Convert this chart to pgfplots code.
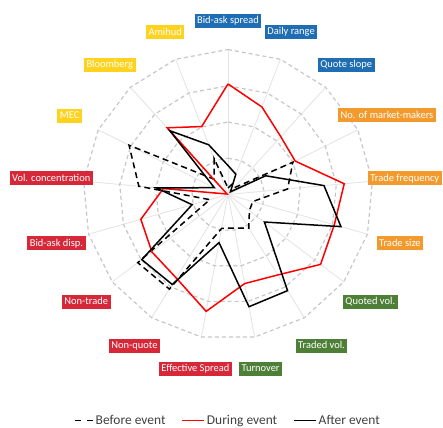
\documentclass[border=0pt]{standalone}
\usepackage{pgfplots}
\pgfplotsset{compat=1.18}
\usepgfplotslibrary{polar}
\usepackage{pgfplotstable}
\usepackage{fontspec}
\setmainfont{Carlito}

\definecolor{cblue}{HTML}{1F6EB4}
\definecolor{cyellow}{HTML}{FFD21E}
\definecolor{corange}{HTML}{F39A2D}
\definecolor{cred}{HTML}{D62839}
\definecolor{cgreen}{HTML}{4E7F37}
\definecolor{legtext}{HTML}{404040}

% angle (deg, clockwise from top) and score of each event window
\pgfplotstableread{
angle    before during after
90       0.18   3.05   0.80
68.824   0.30   2.59   0.60
47.647   0.25   2.16   0.10
26.471   2.00   2.07   1.16
5.294    1.65   3.22   2.66
-15.882  0.71   3.05   3.24
-37.059  0.74   3.20   1.26
-58.235  1.09   2.61   3.12
-79.412  0.94   2.50   3.15
-100.588 0.95   3.28   1.35
-121.765 3.07   2.71   2.92
-142.941 3.12   2.63   2.98
-164.118 0.52   2.50   1.03
-185.294 2.47   1.79   1.99
-206.471 3.05   0.03   0.42
-227.647 0.57   2.49   2.38
-248.824 1.06   2.01   1.47
-270     0.18   3.05   0.80
}\radar

\begin{document}
\begin{tikzpicture}[
  lab/.style={text=white, font=\fontsize{10.5}{12}\selectfont, inner xsep=2.5bp,
    inner ysep=0bp, minimum height=14bp, text height=8bp, text depth=2.2bp},
  ring/.style={draw=black!22, line width=1.2bp, dash pattern=on 4bp off 3bp},
  spoke/.style={draw=black!10, line width=0.9bp}]
\path[use as bounding box] (0,0) rectangle (443bp,428bp);
\begin{polaraxis}[
  at={(228bp,233.5bp)}, anchor=origin,
  width=290bp, height=290bp, scale only axis,
  ymin=0, ymax=4, hide axis, clip=false,
  legend columns=3,
  legend style={at={(0.5,-0.279)}, anchor=center, draw=none, fill=none,
    font=\fontsize{13.5}{15}\selectfont, text=legtext,
    /tikz/every even column/.append style={column sep=14bp}},
  legend image code/.code={\draw[#1] (0bp,0bp) -- (22bp,0bp);},
]
\pgfplotsinvokeforeach{90,68.824,47.647,26.471,5.294,-15.882,-37.059,-58.235,-79.412,
  -100.588,-121.765,-142.941,-164.118,-185.294,-206.471,-227.647,-248.824}{
  \draw[spoke] (axis cs:#1,0) -- (axis cs:#1,4);
}
\pgfplotsinvokeforeach{1,2,3,4}{
  \addplot[ring, forget plot] table[x=angle, y expr=#1] {\radar};
}

\addplot[black, line width=1.5bp, dash pattern=on 6bp off 4bp,
  legend image code/.code={\draw[black, line width=1.5bp] (0bp,0bp) -- (6bp,0bp) (12bp,0bp) -- (18bp,0bp);}]
  table[x=angle, y=before] {\radar};
\addlegendentry{Before event}
\addplot[red, line width=1.5bp] table[x=angle, y=during] {\radar};
\addlegendentry{During event}
\addplot[black, line width=1.5bp] table[x=angle, y=after] {\radar};
\addlegendentry{After event}

\node[lab, fill=cblue]   at (axis cs:90,4.8)       {Bid-ask spread};
\node[lab, fill=cblue]   at (axis cs:68.824,4.82)  {Daily range};
\node[lab, fill=cblue]   at (axis cs:47.647,4.84)  {Quote slope};
\node[lab, fill=corange] at (axis cs:26.471,4.9)   {No. of market-makers};
\node[lab, fill=corange] at (axis cs:5.294,4.9)    {Trade frequency};
\node[lab, fill=corange] at (axis cs:-15.882,4.93) {Trade size};
\node[lab, fill=cgreen]  at (axis cs:-37.059,4.92) {Quoted vol.};
\node[lab, fill=cgreen]  at (axis cs:-58.235,4.9)  {Traded vol.};
\node[lab, fill=cgreen]  at (axis cs:-79.412,4.9)  {Turnover};
\node[lab, fill=cred]    at (axis cs:-100.588,4.9) {Effective Spread};
\node[lab, fill=cred]    at (axis cs:-121.765,4.9) {Non-quote};
\node[lab, fill=cred]    at (axis cs:-142.941,4.9) {Non-trade};
\node[lab, fill=cred]    at (axis cs:-164.118,4.92){Bid-ask disp.};
\node[lab, fill=cred]    at (axis cs:-185.294,4.9) {Vol. concentration};
\node[lab, fill=cyellow] at (axis cs:-206.471,4.88){MEC};
\node[lab, fill=cyellow] at (axis cs:-227.647,4.84){Bloomberg};
\node[lab, fill=cyellow] at (axis cs:-248.824,4.8) {Amihud};
\end{polaraxis}
\end{tikzpicture}
\end{document}
